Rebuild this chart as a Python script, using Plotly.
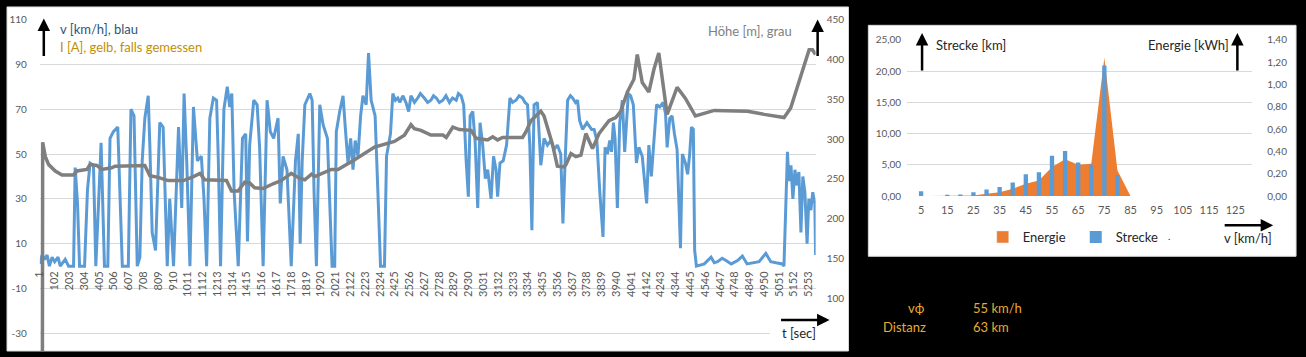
import plotly.graph_objects as go

# ---------------- data: left chart (time series) ----------------
t_speed = [1, 16, 34, 50, 66, 84, 102, 125, 140, 174, 197, 231, 242, 258, 272, 306, 326, 344, 367, 383, 401, 419, 442, 465,
           480, 503, 533, 548, 564, 605, 623, 644, 666, 684, 700, 718, 741, 752, 768, 791, 820, 843, 871, 888, 914,
           948, 970, 986, 1004, 1026, 1050, 1077, 1104, 1122, 1140, 1162, 1186, 1208, 1220, 1235, 1258, 1281, 1298, 1312,
           1328, 1356, 1385, 1407, 1419, 1434, 1462, 1485, 1502, 1526, 1553, 1575, 1598, 1628, 1643, 1662, 1689, 1718,
           1747, 1766, 1779, 1793,
           1811, 1845, 1861, 1874, 1890, 1913, 1936, 1965, 1981, 1997, 2015, 2026, 2049, 2072, 2087, 2106, 2124, 2140,
           2155, 2174, 2192, 2208, 2230, 2246, 2264, 2291, 2310, 2328, 2355, 2369, 2396, 2412, 2430, 2446, 2460, 2480,
           2502, 2520, 2536, 2560, 2582, 2600, 2627, 2650, 2672, 2690,
           2709, 2730, 2754, 2775, 2799, 2820, 2845, 2860, 2879, 2896, 2913, 2928, 2940, 2958, 2974, 2992, 3008, 3026,
           3044, 3060, 3083, 3100, 3117, 3128, 3144, 3166, 3189, 3212, 3230, 3253, 3275, 3298, 3315, 3332, 3348, 3362,
           3377, 3400, 3423, 3445, 3468, 3491, 3513, 3536, 3559, 3574, 3591,
           3606, 3625, 3640, 3660, 3674, 3688, 3708, 3738, 3770, 3787, 3806, 3826, 3848, 3862, 3878, 3894, 3906, 3919,
           3930, 3946, 3962, 3980, 3996, 4021, 4037, 4055, 4076, 4093, 4116, 4146, 4161, 4178, 4195, 4214, 4236, 4259,
           4275, 4286, 4304, 4320, 4336, 4354, 4377, 4390, 4411, 4426, 4440, 4452, 4465, 4474, 4486,
           4540, 4586, 4608, 4630, 4662, 4688, 4724, 4767, 4800, 4832, 4868, 4914, 4960, 4994, 5030, 5072, 5084,
           5098, 5108, 5118, 5132, 5145, 5159, 5172, 5186, 5200, 5213, 5227, 5242, 5254, 5268, 5281, 5295, 5300]
v_speed = [1, 5, 3, 5, 0, 4, 2, 4, 0, 3, 0, 0, 44, 28, 0, 0, 34, 46, 45, 0, 27, 55, 0, 0,
           57, 60, 62, 36, 0, 0, 70, 67, 0, 4, 47, 66, 76, 54, 15, 7, 64, 62, 0, 30, 0,
           62, 26, 77, 47, 0, 71, 47, 49, 30, 0, 66, 75, 74, 47, 0, 70, 80, 71, 77,
           33, 0, 57, 59, 11, 54, 74, 72, 53, 0, 74, 60, 57, 66, 28, 49, 43, 0,
           47, 59, 10, 47,
           72, 77, 74, 33, 0, 72, 63, 57, 26, 0, 0, 60, 69, 76, 62, 46, 57, 43,
           56, 49, 67, 76, 72, 95, 74, 67, 33, 0, 0, 49, 59, 77, 74, 75, 73, 76,
           73, 69, 76, 73, 75, 77, 75, 73, 74, 76,
           75, 73, 74, 76, 73, 75, 74, 77, 76, 72, 47, 31, 67, 69, 56, 26, 64, 54,
           39, 43, 30, 49, 43, 31, 46, 47, 54, 75, 73, 74, 76, 75, 73, 72, 54, 16,
           72, 73, 45, 57, 54, 56, 52, 54, 50, 19, 50,
           74, 76, 75, 73, 74, 65, 61, 64, 61, 61, 56, 33, 13, 53, 50, 56, 51, 64,
           57, 26, 64, 74, 51, 77, 76, 72, 46, 53, 49, 28, 54, 40, 54, 72, 71, 73,
           68, 53, 66, 67, 59, 52, 8, 50, 46, 41, 50, 62, 61, 7, 0,
           1, 4, 1.5, 2, 3.5, 2.5, 1, 2.5, 4.5, 1, 1.5, 2, 5.7, 2, 1.5, 1, 0,
           35, 51, 38, 45, 30, 43, 36, 42, 15, 40, 33, 10, 30, 25, 33, 28, 5]

t_height = [1, 18, 20, 38, 61, 106, 152, 231, 254, 322, 344, 390, 424, 492, 514, 718, 752, 809, 877, 982, 1050, 1094,
            1128, 1276, 1310, 1355, 1400, 1434, 1468, 1526, 1594, 1650, 1718, 1774, 1811, 1856, 1879, 1992, 2038, 2151,
            2287, 2332, 2423, 2491, 2536, 2559, 2604, 2672, 2754, 2777, 2822, 2867, 2947, 2981, 3060, 3094, 3128, 3162,
            3298, 3321, 3355, 3423, 3445, 3502, 3536, 3581, 3595, 3629, 3663, 3697, 3731, 3776, 3821, 3889, 3935, 3969,
            4014, 4059, 4082, 4116, 4161, 4195, 4229, 4286, 4354, 4411, 4479, 4608, 4835, 4949, 5085, 5130, 5222, 5256,
            5279, 5300]
h_height = [0, 0, 296, 278, 268, 260, 255, 255, 260, 262, 268, 267, 262, 264, 266, 267, 254, 252, 248, 248, 253, 257,
            249, 248, 235, 235, 246, 245, 239, 238, 244, 248, 257, 251, 249, 256, 253, 262, 262, 274,
            290, 292, 297, 305, 318, 313, 311, 305, 305, 302, 315, 312, 311, 301, 299, 303, 299, 302,
            302, 309, 323, 335, 329, 294, 266, 265, 268, 282, 278, 280, 307, 288, 307, 323, 327, 335,
            359, 375, 406, 371, 359, 387, 408, 331, 365, 351, 329, 336, 335, 331, 327, 339, 391, 412,
            412, 406]

x_tick_vals = list(range(1, 5254, 101))
y_left_ticks = [-30, -10, 10, 30, 50, 70, 90, 110]
y_right_ticks = [100, 150, 200, 250, 300, 350, 400, 450]

# ---------------- data: inset chart (distribution by speed class) ----------------
speed_classes = list(range(5, 130, 5))
strecke_km = [0.77, 0, 0.15, 0.26, 0.62, 1.04, 1.45, 2.17, 3.5, 3.82, 6.45, 7.23, 5.37, 5.06, 20.9, 3.36,
              0, 0, 0, 0, 0, 0, 0, 0, 0]
energie_kwh = [0, 0, 0, 0, 0.006, 0.02, 0.035, 0.065, 0.11, 0.14, 0.26, 0.33, 0.28, 0.29, 1.24, 0.23,
               0, 0, 0, 0, 0, 0, 0, 0, 0]
class_ticks = list(range(5, 130, 10))

avg_speed_kmh = 55
distance_km = 63

# ---------------- figure ----------------
W, H = 1306, 357
def px(x):
    return x / W
def py(y):
    return 1 - y / H

FONT = "Lato"
BLUE = "#5B9BD5"
GREY = "#7F7F7F"
ORANGE = "#ED7D31"
TICK = "#595959"
GRID = "#D9D9D9"
GOLD = "#E8AC30"

fig = go.Figure()
fig.add_trace(go.Scatter(x=t_speed, y=v_speed, mode="lines", line=dict(color=BLUE, width=3),
                         xaxis="x", yaxis="y", showlegend=False, hoverinfo="skip"))
fig.add_trace(go.Scatter(x=t_height, y=h_height, mode="lines", line=dict(color=GREY, width=3.5),
                         xaxis="x", yaxis="y2", showlegend=False, hoverinfo="skip"))
fig.add_trace(go.Scatter(x=speed_classes, y=energie_kwh, mode="lines", fill="tozeroy", fillcolor=ORANGE,
                         line=dict(color=ORANGE, width=0), name="Energie", legendgroup="energie",
                         showlegend=False, xaxis="x3", yaxis="y3"))
# legend swatch for the Energie area (square like the reference legend)
fig.add_trace(go.Bar(x=[None], y=[None], marker=dict(color=ORANGE), name="Energie", legendgroup="energie",
                     xaxis="x3", yaxis="y3"))
fig.add_trace(go.Bar(x=speed_classes, y=strecke_km, width=1.65, marker=dict(color=BLUE, line=dict(width=0)),
                     name="Strecke", xaxis="x3", yaxis="y4"))

shapes = [
    dict(type="rect", xref="paper", yref="paper", x0=0, x1=px(846), y0=0, y1=py(1),
         fillcolor="white", line=dict(color=GRID, width=1), layer="below"),
    dict(type="rect", xref="paper", yref="paper", x0=px(866), x1=px(1296), y0=py(259), y1=py(20),
         fillcolor="white", line=dict(color=GRID, width=1), layer="below"),
]
# white text-box backgrounds covering gridlines
for (x0, x1, y0, y1) in [(33, 235, 6, 52), (690, 806, 6, 34), (767, 816, 331, 347),
                         (905, 1023, 28, 45), (1135, 1253, 28, 45)]:
    shapes.append(dict(type="rect", xref="paper", yref="paper", x0=px(x0), x1=px(x1), y0=py(y1), y1=py(y0),
                       fillcolor="white", line=dict(width=0), layer="above"))

def text_ann(txt, x, y, anchor="left", color="#262626", size=13):
    return dict(text=txt, x=px(x), y=py(y), xref="paper", yref="paper", xanchor=anchor, yanchor="middle",
                showarrow=False, font=dict(family=FONT, size=size, color=color))

def arrow_ann(xh, yh, dx, dy, width=2.5):
    return dict(text="", x=px(xh), y=py(yh), xref="paper", yref="paper", ax=dx, ay=dy,
                axref="pixel", ayref="pixel", showarrow=True, arrowhead=2, arrowsize=1,
                arrowwidth=width, arrowcolor="black")

annotations = [
    text_ann("v [km/h], blau", 51, 24, color="#2E5475"),
    text_ann("I [A], gelb, falls gemessen", 51, 42, color="#BF9000"),
    text_ann("Höhe [m], grau", 791, 26, anchor="right", color="#808080"),
    text_ann("t [sec]", 777, 338, color="#262626"),
    arrow_ann(37, 13, 0, 39),
    arrow_ann(815, 14, 0, 38),
    arrow_ann(827, 325, -50, 0),
    text_ann("Strecke [km]", 932, 40),
    text_ann("Energie [kWh]", 1231, 40, anchor="right"),
    arrow_ann(920, 28, 0, 39),
    arrow_ann(1237, 28, 0, 39),
    text_ann("v [km/h]", 1222, 240),
    arrow_ann(1273, 227, -50, 0),
    text_ann(".", 1165, 238, size=10),
    text_ann("vϕ", 925, 312, anchor="right", color=GOLD),
    text_ann(f"{avg_speed_kmh} km/h", 969, 312, color=GOLD),
    text_ann("Distanz", 926, 332, anchor="right", color=GOLD),
    text_ann(f"{distance_km} km", 969, 332, color=GOLD),
]

y_left_range = [-37.84, 110]
zero_frac = (0 - y_left_range[0]) / (y_left_range[1] - y_left_range[0]) * py(14)

fig.update_layout(
    width=W, height=H, margin=dict(l=0, r=0, t=0, b=0),
    paper_bgcolor="black", plot_bgcolor="rgba(0,0,0,0)",
    separators=",.",
    font=dict(family=FONT, color=TICK),
    shapes=shapes, annotations=annotations,
    showlegend=True,
    legend=dict(orientation="h", x=px(981), xanchor="left", y=py(239), yanchor="middle",
                bgcolor="rgba(0,0,0,0)", font=dict(family=FONT, size=13, color="#262626"),
                entrywidth=48, entrywidthmode="pixels", itemclick=False, itemdoubleclick=False),
    xaxis=dict(domain=[px(33), px(813)], range=[0.5, 5300.5], anchor="free", position=zero_frac,
               tickmode="array", tickvals=x_tick_vals, ticktext=[str(v) for v in x_tick_vals],
               tickangle=-90, ticks="", showgrid=False, zeroline=False, showline=False,
               tickfont=dict(family=FONT, size=11, color=TICK), ticklabelstandoff=2),
    yaxis=dict(domain=[0, py(14)], range=y_left_range, anchor="x",
               tickmode="array", tickvals=y_left_ticks, ticktext=[str(v) for v in y_left_ticks],
               showgrid=True, gridcolor=GRID, gridwidth=1, zeroline=False, showline=False, ticks="",
               tickfont=dict(family=FONT, size=10, color=TICK), ticklabelstandoff=12),
    yaxis2=dict(overlaying="y", side="right", anchor="x", range=[34.2, 450],
                tickmode="array", tickvals=y_right_ticks, ticktext=[str(v) for v in y_right_ticks],
                showgrid=False, zeroline=False, showline=False, ticks="",
                tickfont=dict(family=FONT, size=10, color=TICK), ticklabelstandoff=10),
    xaxis3=dict(domain=[px(905), px(1252)], range=[-0.32, 131.5], anchor="y3",
                tickmode="array", tickvals=class_ticks, ticktext=[str(v) for v in class_ticks],
                ticks="", showgrid=False, zeroline=False, showline=False,
                tickfont=dict(family=FONT, size=11, color=TICK), ticklabelstandoff=6),
    yaxis3=dict(domain=[py(196.7), py(35)], range=[0, 1.4], side="right", anchor="x3",
                dtick=0.2, tick0=0, tickformat=".2f", showgrid=False, zeroline=False, showline=False, ticks="",
                tickfont=dict(family=FONT, size=10, color=TICK), ticklabelstandoff=14),
    yaxis4=dict(overlaying="y3", side="left", anchor="x3", range=[0, 25], dtick=5, tick0=0,
                tickformat=".2f", showgrid=True, gridcolor=GRID, zeroline=False, showline=False, ticks="",
                tickfont=dict(family=FONT, size=10, color=TICK), ticklabelstandoff=5),
    barmode="overlay",
)

fig.write_html("out.html", config={"displayModeBar": False},
               post_script="document.body.style.margin='0px';")
